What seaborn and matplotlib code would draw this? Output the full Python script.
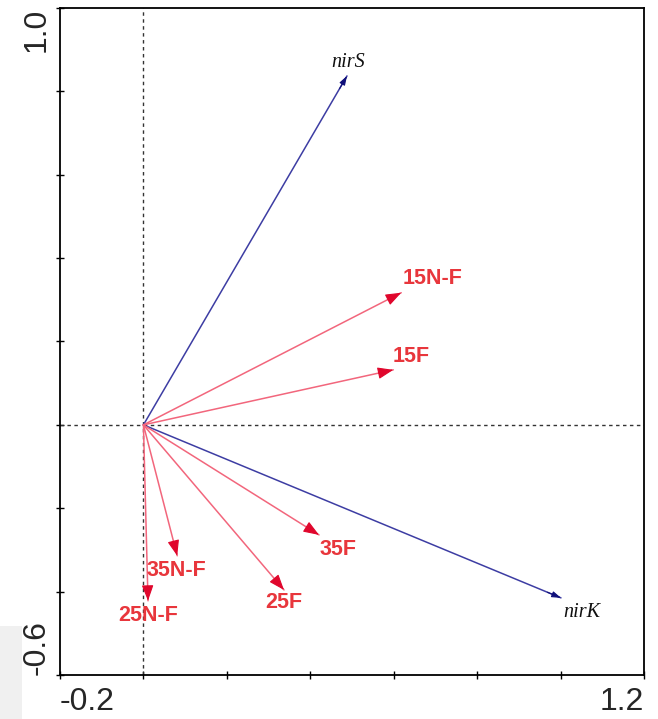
import numpy as np
import pandas as pd
import seaborn as sns
import matplotlib
matplotlib.use("Agg")
import matplotlib.pyplot as plt
from matplotlib.patches import Rectangle

# Biplot vectors (end points; every vector starts at the origin)
gene_names = ["nirS", "nirK"]
gene_x = [0.488, 1.001]
gene_y = [0.837, -0.415]

treat_names = ["15N-F", "15F", "35F", "25F", "35N-F", "25N-F"]
treat_x = [0.618, 0.599, 0.421, 0.337, 0.081, 0.011]
treat_y = [0.317, 0.132, -0.264, -0.396, -0.314, -0.422]

# label anchor points (data units)
gene_lab_x = [0.491, 1.052]
gene_lab_y = [0.870, -0.451]
treat_lab_x = [0.692, 0.643, 0.467, 0.337, 0.080, 0.011]
treat_lab_y = [0.350, 0.165, -0.299, -0.425, -0.350, -0.457]

x_limits = [-0.2, 1.2]
y_limits = [-0.6, 1.0]
tick_step = 0.2

sns.set_theme(style="white")
plt.rcParams["font.family"] = ["Liberation Sans", "DejaVu Sans"]

fig = plt.figure(figsize=(6.58, 7.19), dpi=100)
fig.patches.append(Rectangle((0, 0), 0.0334, 0.129, transform=fig.transFigure,
                             facecolor="#f0f0f0", edgecolor="none", zorder=-1))
ax = fig.add_axes([0.0912, 0.0612, 0.8875, 0.9277])

# shafts drawn as two-point lines from the origin
rows = []
for n, x, y in zip(gene_names, gene_x, gene_y):
    rows += [dict(name=n, grp="gene", x=0.0, y=0.0), dict(name=n, grp="gene", x=x, y=y)]
for n, x, y in zip(treat_names, treat_x, treat_y):
    rows += [dict(name=n, grp="treat", x=0.0, y=0.0), dict(name=n, grp="treat", x=x, y=y)]
vec = pd.DataFrame(rows)

shaft_pal = {"gene": "#3d3da3", "treat": "#f2667c"}
sns.lineplot(data=vec, x="x", y="y", hue="grp", units="name", estimator=None,
             sort=False, palette=shaft_pal, linewidth=1.1, legend=False, ax=ax, zorder=3)

# arrow heads
def head(x, y, color, size, width):
    r = np.hypot(x, y)
    back = 0.035 / r
    ax.annotate("", xy=(x, y), xytext=(x * (1 - back), y * (1 - back)),
                arrowprops=dict(arrowstyle=f"-|>,head_length={size},head_width={width}",
                                color=color, lw=0.8, shrinkA=0, shrinkB=0), zorder=4)

for x, y in zip(gene_x, gene_y):
    head(x, y, "#10107a", 0.45, 0.15)
for x, y in zip(treat_x, treat_y):
    head(x, y, "#e0062c", 0.8, 0.3)

for n, x, y in zip(gene_names, gene_lab_x, gene_lab_y):
    ax.text(x, y, n, family=["Liberation Serif", "DejaVu Serif"], style="italic",
            fontsize=14.5, color="#111111", ha="center", va="center", zorder=5)
for n, x, y in zip(treat_names, treat_lab_x, treat_lab_y):
    ax.text(x, y, n, fontsize=15.5, fontweight="bold", color="#e8363c",
            ha="center", va="center", zorder=5)

# reference lines through the origin
ax.axvline(0, color="#333333", lw=1.0, ls=(0, (2.5, 2.5)), zorder=1)
ax.axhline(0, color="#333333", lw=1.0, ls=(0, (2.5, 2.5)), zorder=1)

ax.set_xlim(x_limits)
ax.set_ylim(y_limits)
xt = np.round(np.arange(x_limits[0], x_limits[1] + 1e-9, tick_step), 1)
yt = np.round(np.arange(y_limits[0], y_limits[1] + 1e-9, tick_step), 1)
ax.set_xticks(xt)
ax.set_yticks(yt)
ax.set_xticklabels([f"{v:.1f}" if i in (0, len(xt) - 1) else "" for i, v in enumerate(xt)])
ax.set_yticklabels([f"{v:.1f}" if i in (0, len(yt) - 1) else "" for i, v in enumerate(yt)],
                   rotation=90, va="center")
xl = ax.get_xticklabels()
xl[0].set_ha("left")
xl[-1].set_ha("right")
yl = ax.get_yticklabels()
yl[0].set_va("bottom")
yl[-1].set_va("top")
ax.tick_params(axis="both", which="both", direction="inout", length=6, width=1.0,
               color="black", labelsize=23, left=True, bottom=True)
ax.tick_params(axis="y", pad=3)
ax.tick_params(axis="x", pad=6)
for s in ax.spines.values():
    s.set_color("black")
    s.set_linewidth(1.3)
ax.set_xlabel("")
ax.set_ylabel("")

fig.savefig("out.png", dpi=100)
